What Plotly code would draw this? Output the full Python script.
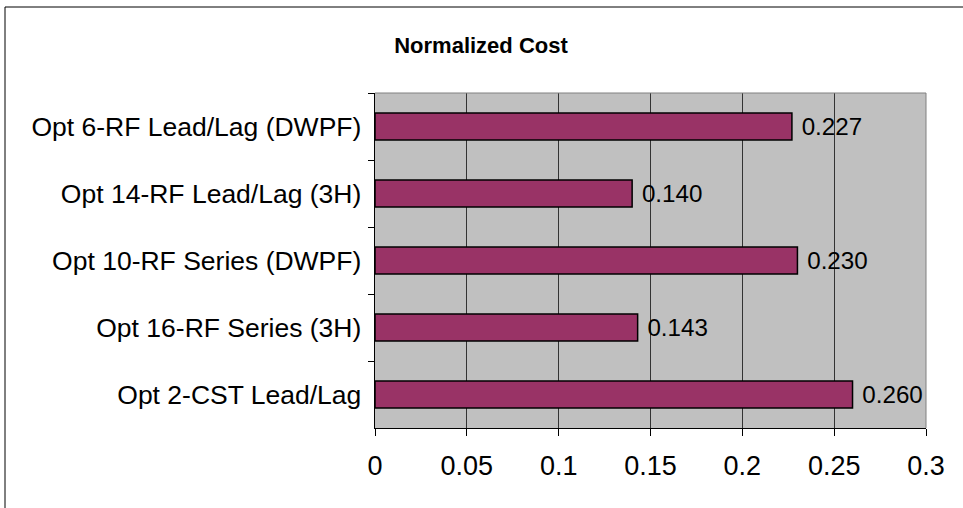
import plotly.graph_objects as go

categories = ["Opt 6-RF Lead/Lag (DWPF)", "Opt 14-RF Lead/Lag (3H)", "Opt 10-RF Series (DWPF)",
              "Opt 16-RF Series (3H)", "Opt 2-CST Lead/Lag"]
values = [0.227, 0.140, 0.230, 0.143, 0.260]
labels = ["0.227", "0.140", "0.230", "0.143", "0.260"]
x_ticks = [0, 0.05, 0.1, 0.15, 0.2, 0.25, 0.3]
x_tick_labels = ["0", "0.05", "0.1", "0.15", "0.2", "0.25", "0.3"]

W, H = 963, 508
L, R, T, B = 375, 37, 93, 80
pw, ph = W - L - R, H - T - B
FONT = "Liberation Sans, Arial"

def px(x):
    return (x - L) / pw

def py(y):
    return 1 - (y - T) / ph

fig = go.Figure(go.Bar(
    y=categories, x=values, orientation="h",
    marker=dict(color="#993366", line=dict(color="black", width=1.5)),
    text=labels, texttemplate=" %{text}", textposition="outside", cliponaxis=False,
    textfont=dict(family=FONT, size=28, color="black"),
))

fig.update_layout(
    width=W, height=H, autosize=False,
    margin=dict(l=L, r=R, t=T, b=B),
    paper_bgcolor="white", plot_bgcolor="#C0C0C0",
    font=dict(family=FONT, size=27, color="black"),
    title=dict(text="<b>Normalized Cost</b>", x=481 / W, xref="container", xanchor="center",
               y=1 - 45 / H, yref="container", yanchor="middle",
               font=dict(size=22, family=FONT, color="black")),
    bargap=0.6, showlegend=False,
    xaxis=dict(range=[0, 0.3], tickvals=x_ticks, ticktext=x_tick_labels,
               showgrid=True, gridcolor="#333333", gridwidth=1,
               showline=True, linecolor="black", linewidth=1,
               ticks="outside", ticklen=7, tickcolor="black", zeroline=False,
               ticklabelstandoff=7),
    yaxis=dict(autorange="reversed", tickson="boundaries", ticks="outside", ticklen=6,
               tickcolor="black", showline=True, linecolor="black", linewidth=1,
               showgrid=False, ticksuffix=" ", tickfont=dict(size=26.5)),
    shapes=[
        dict(type="line", xref="paper", yref="paper", x0=0, x1=1, y0=1, y1=1,
             line=dict(color="#808080", width=1)),
        dict(type="line", xref="paper", yref="paper", x0=1, x1=1, y0=0, y1=1,
             line=dict(color="#808080", width=1)),
        dict(type="line", xref="paper", yref="paper", x0=px(5), x1=px(970), y0=py(7), y1=py(7),
             line=dict(color="black", width=1)),
        dict(type="line", xref="paper", yref="paper", x0=px(5), x1=px(5), y0=py(7), y1=py(515),
             line=dict(color="black", width=1)),
    ],
)

fig.write_html("out.html", config={"displayModeBar": False},
               post_script="document.body.style.margin='0';document.body.style.overflow='hidden';")
